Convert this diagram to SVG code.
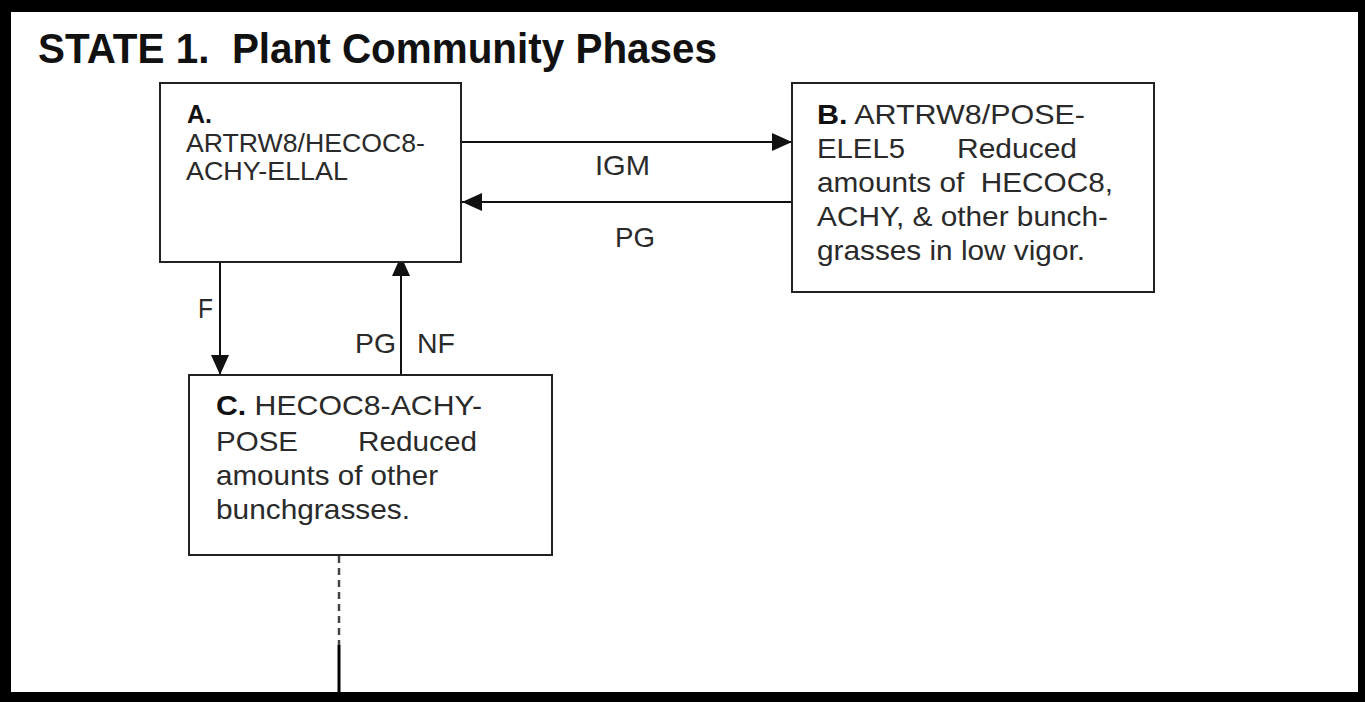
<svg xmlns="http://www.w3.org/2000/svg" width="1365" height="702" viewBox="0 0 1365 702" xml:space="preserve">
<style>
.box{fill:#fff;stroke:#222;stroke-width:2}
.t{font-family:"Liberation Sans",Arial,sans-serif;fill:#2a2a2a;white-space:pre}
.b{font-weight:bold;fill:#111}
.ln{stroke:#111;stroke-width:2;fill:none}
</style>
<defs>
<marker id="ah" viewBox="0 0 20 18" refX="20" refY="9" markerWidth="20" markerHeight="18" markerUnits="userSpaceOnUse" orient="auto">
<path d="M0,0 L20,9 L0,18 Z" fill="#111"/>
</marker>
</defs>
<rect x="0" y="0" width="1365" height="702" fill="#000"/>
<rect x="11" y="12" width="1347" height="680" fill="#fff"/>
<text class="t b" x="38" y="63" font-size="42" textLength="679" lengthAdjust="spacingAndGlyphs" fill="#111">STATE 1.  Plant Community Phases</text>
<g id="connectors">
<line class="ln" x1="461" y1="142" x2="792" y2="142" marker-end="url(#ah)"/>
<line class="ln" x1="792" y1="202" x2="462" y2="202" marker-end="url(#ah)"/>
<line class="ln" x1="220" y1="253" x2="220" y2="375" marker-end="url(#ah)"/>
<line class="ln" x1="401" y1="375" x2="401" y2="256" marker-end="url(#ah)"/>
<line x1="339" y1="556" x2="339" y2="645" stroke="#444" stroke-width="2.5" stroke-dasharray="7,5"/>
<line x1="339" y1="645" x2="339" y2="692" stroke="#000" stroke-width="3"/>
<text class="t" x="595" y="175" font-size="28" textLength="55" lengthAdjust="spacingAndGlyphs">IGM</text>
<text class="t" x="615" y="247" font-size="28" textLength="40" lengthAdjust="spacingAndGlyphs">PG</text>
<text class="t" x="198" y="318" font-size="28" textLength="15" lengthAdjust="spacingAndGlyphs">F</text>
<text class="t" x="355" y="353" font-size="28" textLength="41" lengthAdjust="spacingAndGlyphs">PG</text>
<text class="t" x="417" y="353" font-size="28" textLength="38" lengthAdjust="spacingAndGlyphs">NF</text>
</g>
<g id="nodeA">
<rect class="box" x="160" y="83" width="301" height="179"/>
<text class="t b" x="187" y="123" font-size="25">A.</text>
<text class="t" x="186" y="152" font-size="25" textLength="239" lengthAdjust="spacingAndGlyphs">ARTRW8/HECOC8-</text>
<text class="t" x="186" y="180" font-size="25" textLength="162" lengthAdjust="spacingAndGlyphs">ACHY-ELLAL</text>
</g>
<g id="nodeB">
<rect class="box" x="792" y="83" width="362" height="209"/>
<text class="t" x="817" y="124" font-size="28" textLength="268" lengthAdjust="spacingAndGlyphs"><tspan class="b">B.</tspan> ARTRW8/POSE-</text>
<text class="t" x="817" y="158" font-size="28" textLength="88" lengthAdjust="spacingAndGlyphs">ELEL5</text>
<text class="t" x="957" y="158" font-size="28" textLength="120" lengthAdjust="spacingAndGlyphs">Reduced</text>
<text class="t" x="817" y="192" font-size="28" textLength="296" lengthAdjust="spacingAndGlyphs">amounts of  HECOC8,</text>
<text class="t" x="817" y="226" font-size="28" textLength="291" lengthAdjust="spacingAndGlyphs">ACHY, &amp; other bunch-</text>
<text class="t" x="817" y="260" font-size="28" textLength="268" lengthAdjust="spacingAndGlyphs">grasses in low vigor.</text>
</g>
<g id="nodeC">
<rect class="box" x="189" y="375" width="363" height="180"/>
<text class="t" x="216" y="415" font-size="28" textLength="266" lengthAdjust="spacingAndGlyphs"><tspan class="b">C.</tspan> HECOC8-ACHY-</text>
<text class="t" x="216" y="451" font-size="28" textLength="82" lengthAdjust="spacingAndGlyphs">POSE</text>
<text class="t" x="358" y="451" font-size="28" textLength="119" lengthAdjust="spacingAndGlyphs">Reduced</text>
<text class="t" x="216" y="485" font-size="28" textLength="222" lengthAdjust="spacingAndGlyphs">amounts of other</text>
<text class="t" x="216" y="519" font-size="28" textLength="194" lengthAdjust="spacingAndGlyphs">bunchgrasses.</text>
</g>
</svg>
